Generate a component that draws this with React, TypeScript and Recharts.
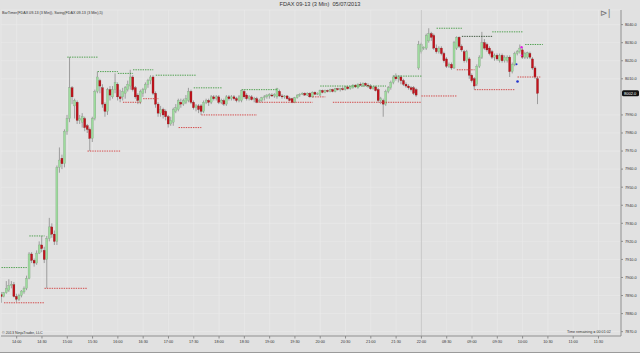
import React from 'react';
import {
  ComposedChart,
  Bar,
  XAxis,
  YAxis,
  CartesianGrid,
  ReferenceLine,
  ReferenceArea,
  ReferenceDot,
} from 'recharts';

// first bar sits at bar index -6 (14:00 = index 0, one bar = 3 min)
const FIRST_INDEX = -6;

// [open, high, low, close]
const ohlc: [number, number, number, number][] = [
  [7890.5, 7892, 7886, 7889.5], [7889.5, 7892, 7889, 7891.5], [7891.5, 7898, 7891, 7894], [7893, 7899, 7892, 7895.5],
  [7895.5, 7898, 7894, 7896], [7896, 7897.5, 7889, 7889.5], [7889.5, 7891, 7886.5, 7888], [7888, 7891, 7887, 7890],
  [7890, 7893, 7889, 7892.5], [7892, 7895, 7891, 7894], [7894, 7901, 7893, 7899.5], [7899.5, 7914, 7899, 7913],
  [7913, 7914, 7908, 7909.5], [7909.5, 7910.5, 7906, 7908], [7908, 7915, 7907, 7913.5], [7913.5, 7920, 7913, 7918],
  [7918, 7923, 7914, 7916], [7915, 7917, 7908, 7910], [7910, 7923, 7894, 7921.5], [7921.5, 7933, 7920, 7928],
  [7928, 7930, 7922, 7924], [7924, 7926, 7918, 7920],
  // rally
  [7920, 7962, 7918, 7961], [7961, 7972, 7958, 7965], [7966, 7968, 7960, 7963], [7963, 7982, 7961, 7981],
  [7981, 7990, 7979, 7988], [7988, 8022, 7986, 8005], [8005, 8006, 7996, 8000], [7995, 7999, 7988, 7998],
  [7997, 7998, 7985, 7987], [7987, 7990, 7985, 7988], [7986, 7991, 7983, 7989], [7988, 7989, 7981, 7983],
  [7984, 7985, 7980, 7982], [7982, 7983, 7970, 7977], [7977, 7989, 7975, 7988], [7988, 8004, 7987, 8003],
  [8003, 8014, 8002, 8011], [8009, 8010, 8002, 8006], [8005, 8007, 7994, 7996], [7996, 7997, 7989, 7992],
  [7992, 8005, 7990, 8004], [8004, 8006, 7998, 8001], [8000, 8006, 7999, 8004], [8004, 8013, 8002, 8008],
  [8007, 8008, 7998, 8000], [8000, 8004, 7997, 7999], [8000, 8005, 7998, 8003], [8002, 8006, 7999, 8005],
  [8004, 8009, 8003, 8007], [8006, 8015, 8004, 8011], [8011, 8012, 8003, 8004], [8005, 8006, 7999, 8000],
  [8001, 8002, 7996, 7998], [7997, 8004, 7996, 8003], [8002, 8005, 8000, 8004], [8004, 8008, 8002, 8007],
  [8007, 8010, 8005, 8009], [8009, 8012, 8007, 8011], [8011, 8012, 8001, 8002], [8002, 8003, 7994, 7996],
  [7996, 7997, 7989, 7991], [7991, 7995, 7989, 7993], [7993, 7994, 7988, 7990], [7992, 7993, 7987, 7989],
  [7989, 7990, 7983, 7985], [7985, 7989, 7984, 7987], [7986, 7994, 7984, 7993], [7992, 7996, 7991, 7994],
  [7993, 7999, 7992, 7998], [7997, 7999, 7994, 7996], [7996, 7999, 7995, 7998], [7997, 8001, 7996, 7999],
  [7998, 8005, 7997, 8003], [8003, 8004, 7996, 7997], [7997, 7998, 7993, 7994],
  // evening
  [7994, 7996, 7992, 7995], [7995, 7996, 7991, 7993], [7995, 7996, 7990, 7992], [7992, 7998, 7991, 7997],
  [7997, 7999, 7996, 7998], [7998, 7999, 7995, 7997], [7997, 8001, 7996, 8000], [8000, 8001, 7998, 7999],
  [7999, 8001, 7998, 8000], [8000, 8001, 7996, 7997], [7997, 7999, 7996, 7998], [7998, 7999, 7995, 7996],
  [7996, 8001, 7995, 8000], [8000, 8001, 7998, 7999], [7999, 8001, 7998, 8000], [8000, 8001, 7998, 7999],
  [7999, 8000, 7997, 7998], [7998, 8001, 7997, 8000], [7998, 8004, 7997, 8003.5], [8003, 8004, 7999, 8000],
  [8001, 8002, 7998, 7999], [7999, 8001, 7998, 8000], [8000, 8001, 7998, 7998.5], [7998.5, 8000, 7997, 7999],
  [7999, 8000, 7996.5, 7997], [7997.5, 7999, 7997, 7998], [7998, 8000, 7997, 7999.5], [7999.5, 8001, 7998, 8000],
  [8000, 8001.5, 7999, 8001], [8000.5, 8002, 7999, 8001.5], [8001, 8002, 8000, 8000.5], [8000.5, 8002, 7999.5, 8001.5],
  [8000, 8005, 7999, 8004.5], [8003, 8004, 8000, 8000.5], [8000.5, 8001.5, 7999, 8000], [8000, 8001, 7999, 8000.5],
  [8000.5, 8001, 7998.5, 7999], [7999, 8000, 7997.5, 7998], [7999, 7999.5, 7996.5, 7997], [7997, 8000, 7996.5, 7999.5],
  [7999.5, 8001.5, 7999, 8001], [8001, 8002, 8000, 8001.5], [8001.5, 8002.5, 8001, 8002], [8002, 8002.5, 8000.5, 8001],
  [8001, 8002.5, 8000.5, 8002], [8002, 8002.5, 7999.5, 8000], [8000, 8003, 7999.5, 8002.5], [8002.5, 8003, 8001, 8001.5],
  [8001.5, 8002.5, 8001, 8002], [8001, 8004, 8000.5, 8003.5], [8003.5, 8004, 8002, 8002.5], [8002.5, 8004, 8002, 8003.5],
  [8003.5, 8004, 8002.5, 8003], [8003, 8004.5, 8002.5, 8004], [8004, 8004.5, 8002.5, 8003], [8003, 8005, 8002.5, 8004.5],
  [8004.5, 8005, 8003.5, 8004], [8004, 8005, 8003, 8004.5], [8004.5, 8005.5, 8003.5, 8004], [8004, 8006, 8003.5, 8005.5],
  [8005.5, 8006, 8004, 8004.5], [8004.5, 8006, 8004, 8005.5], [8005, 8007, 8004.5, 8006.5], [8006.5, 8007, 8005, 8005.5],
  [8005, 8007.5, 8004.5, 8007], [8007, 8008, 8006, 8006.5], [8006.5, 8008, 8005.5, 8007.5], [8007.5, 8008, 8006, 8006.5],
  [8006.5, 8007.5, 8005, 8006], [8006, 8007, 8004, 8004.5], [8004.5, 8006, 8004, 8005.5], [8005.5, 8006, 8003, 8003.5],
  [8004, 8005, 7997, 7998], [7998, 8000, 7996, 7999], [7998, 7999, 7989, 7996], [7996, 8004, 7995, 8003],
  [8003, 8006, 8002, 8005], [8005, 8009, 8004, 8008], [8008, 8012, 8007, 8011], [8011, 8013, 8009, 8010],
  [8010, 8012, 8008, 8011], [8011, 8012, 8007, 8009], [8009, 8010, 8006, 8007], [8007, 8008, 8005, 8006],
  [8006, 8007, 8004, 8005], [8005, 8006, 8003, 8004], [8005, 8006, 8001, 8002], [8004, 8005, 8000, 8001],
  // next morning
  [8016, 8031, 8015, 8029], [8025, 8030, 8024, 8029], [8027, 8028, 8026, 8027.5], [8027, 8035, 8026, 8034],
  [8031, 8038, 8030, 8035], [8035, 8036, 8031, 8033], [8034, 8035, 8026, 8027], [8027, 8029, 8024, 8025],
  [8025, 8028, 8024, 8027], [8027, 8028, 8023, 8024], [8024, 8025, 8019, 8020], [8021, 8022, 8016, 8017],
  [8017, 8019, 8016, 8018], [8018, 8019, 8015, 8016], [8016, 8031, 8015.5, 8030], [8027, 8033.5, 8026, 8033],
  [8033, 8033.5, 8027, 8028], [8028, 8029, 8025, 8026], [8025, 8026, 8019, 8020], [8020, 8026, 8019, 8025],
  [8021, 8022, 8010, 8012], [8012, 8013, 8008, 8009], [8010, 8011, 8004, 8006], [8007, 8018, 8006, 8017],
  [8017, 8023, 8016, 8022], [8022, 8036, 8021, 8030], [8030, 8032, 8026, 8027], [8029, 8030, 8025, 8026],
  [8027, 8028, 8023, 8024], [8025, 8026, 8021, 8022], [8022, 8024, 8020, 8023], [8023, 8024, 8020, 8021],
  [8020, 8024, 8019, 8023], [8023, 8024, 8019, 8020], [8020, 8023, 8019, 8022], [8020, 8023, 8019, 8022],
  [8022, 8023, 8011, 8014], [8014, 8019, 8013, 8018], [8018, 8025, 8017, 8024], [8024, 8026, 8023, 8025],
  [8025, 8029, 8024, 8027], [8026, 8027, 8021, 8022], [8022, 8025, 8021, 8024], [8022, 8025, 8021, 8024.5],
  [8024, 8025, 8021, 8022], [8021, 8022, 8015, 8016], [8016, 8017, 8010, 8011], [8010, 8011, 7996, 8002],
];

// swing lines: [price, fromIndex, toIndex]
const swingHighs: [number, number, number][] = [
  [7905.5, -6, 4], [7923, 5, 11], [8022, 20, 32], [8014, 32, 40], [8013, 40, 46], [8015, 46, 54],
  [8012, 55, 71], [8005, 70, 81], [8004, 89, 103], [8006, 120, 146], [8011.5, 149, 160],
  [8038, 166, 176], [8033.5, 176, 188], [8036, 188, 200], [8029, 201, 208],
];
const swingLows: [number, number, number][] = [
  [7886, -5, 11], [7894, 11, 28], [7970, 28, 41], [7997, 42, 49], [7999, 50, 56], [7983, 64, 73],
  [7990, 73, 95], [7997, 95, 117], [8000, 117, 122], [7997, 125, 160], [8000.5, 160, 174],
  [8015, 174, 181], [8004, 181, 197], [8011, 198, 207],
];

const timeLabels = [
  '14:00', '14:30', '15:00', '15:30', '16:00', '16:30', '17:00', '17:30', '18:00', '18:30',
  '19:00', '19:30', '20:00', '20:30', '21:00', '21:30', '22:00', '08:30', '09:00', '09:30',
  '10:00', '10:30', '11:00', '11:30',
];
const priceTicks = [
  7870, 7880, 7890, 7900, 7910, 7920, 7930, 7940, 7950, 7960, 7970, 7980, 7990, 8010, 8020, 8030, 8040,
];

const data = ohlc.map(([open, high, low, close], i) => ({
  idx: FIRST_INDEX + i,
  open,
  high,
  low,
  close,
}));
const lastClose = ohlc[ohlc.length - 1][3];

const FONT = '"Liberation Sans", Arial, sans-serif';

const Candle = (props: any) => {
  const { x, y, width, height, payload } = props;
  if (!payload) return null;
  const { open, high, low, close } = payload;
  const top = Math.min(y, y + height);
  const h = Math.abs(height);
  const ppu = high > low ? h / (high - low) : 0;
  const yOf = (v: number) => top + (high - v) * ppu;
  const cx = x + width / 2;
  const up = close >= open;
  const bTop = yOf(Math.max(open, close));
  const bBot = yOf(Math.min(open, close));
  return (
    <g>
      <line x1={cx} x2={cx} y1={top} y2={top + h} stroke="#808080" strokeWidth={0.7} />
      <rect
        x={cx - 1}
        y={bTop}
        width={2}
        height={Math.max(bBot - bTop, 0.7)}
        fill={up ? '#9ddc9d' : '#c4121c'}
        stroke={up ? '#7c9c7c' : '#7a1010'}
        strokeWidth={0.3}
      />
    </g>
  );
};

const PriceBox = (props: any) => {
  const { cx, cy } = props;
  return (
    <g>
      <rect x={cx + 1} y={cy - 3} width={17} height={6} rx={1.5} fill="#111" />
      <text x={cx + 3} y={cy + 1.6} fontSize={4} fill="#fff" fontFamily={FONT}>
        {lastClose.toFixed(1)}
      </text>
    </g>
  );
};

const App = () => {
  return (
    <div
      style={{
        position: 'absolute',
        left: 0,
        top: 0,
        width: 640,
        height: 353,
        background: '#e1e1e1',
        fontFamily: FONT,
      }}
    >
      <div style={{ position: 'absolute', top: 0, left: 0, width: 640, textAlign: 'center', fontSize: 5.6, color: '#333', lineHeight: '9px' }}>
        FDAX 09-13 (3 Min)&nbsp;&nbsp;05/07/2013
      </div>
      <ComposedChart
        width={640}
        height={352}
        data={data}
        margin={{ top: 10, right: 0, left: 1, bottom: 0 }}
      >
        <CartesianGrid stroke="#ebebeb" strokeWidth={0.6} />
        <ReferenceArea fill="none" stroke="#8c8c8c" strokeWidth={0.8} ifOverflow="visible" />
        <XAxis
          dataKey="idx"
          type="number"
          domain={[-6.2, 238.9]}
          ticks={timeLabels.map((_, i) => i * 10)}
          tickFormatter={(v: number) => timeLabels[v / 10]}
          interval={0}
          height={16}
          tickSize={2.5}
          tick={{ fontSize: 3.8, fill: '#333', fontFamily: FONT }}
          axisLine={{ stroke: '#8c8c8c' }}
          tickLine={{ stroke: '#8c8c8c' }}
          allowDataOverflow
        />
        <YAxis
          orientation="right"
          type="number"
          domain={[7867.6, 8048.1]}
          ticks={priceTicks}
          tickFormatter={(v: number) => v.toFixed(1)}
          interval={0}
          width={19}
          tickSize={2}
          tick={{ fontSize: 3.8, fill: '#333', fontFamily: FONT }}
          axisLine={{ stroke: '#8c8c8c' }}
          tickLine={{ stroke: '#8c8c8c' }}
          allowDataOverflow
        />
        <ReferenceLine x={160} stroke="#bdbdbd" strokeWidth={0.7} />
        {swingHighs.map(([p, a, b], i) => (
          <ReferenceLine
            key={'h' + i}
            segment={[{ x: a, y: p }, { x: b, y: p }]}
            stroke={i === 12 ? '#2f4a2f' : '#3f9a3f'}
            strokeWidth={0.9}
            strokeDasharray="1.4 1"
          />
        ))}
        {swingLows.map(([p, a, b], i) => (
          <ReferenceLine
            key={'l' + i}
            segment={[{ x: a, y: p }, { x: b, y: p }]}
            stroke="#d03a3a"
            strokeWidth={0.9}
            strokeDasharray="1.4 1"
          />
        ))}
        <Bar
          dataKey={(d: any) => [d.low, d.high]}
          barSize={2}
          shape={<Candle />}
          isAnimationActive={false}
        />
        <ReferenceDot x={198} y={8008.5} r={1.3} fill="#2233cc" stroke="none" />
        <ReferenceDot x={197.6} y={8018} r={1} fill="#2233cc" stroke="none" />
        <ReferenceDot x={199.6} y={8027.5} r={1.2} fill="#e020e0" stroke="none" />
        <ReferenceDot x={199.6} y={8023} r={0.9} fill="#e020e0" stroke="none" />
        <ReferenceDot x={238.9} y={lastClose} shape={<PriceBox />} ifOverflow="visible" />
      </ComposedChart>
      <div style={{ position: 'absolute', top: 11, left: 2, fontSize: 3.7, color: '#333', whiteSpace: 'nowrap' }}>
        BarTimer(FDAX 09-13 (3 Min)), Swing(FDAX 09-13 (3 Min),5)
      </div>
      <div style={{ position: 'absolute', top: 331, left: 2, fontSize: 3.7, color: '#333', whiteSpace: 'nowrap' }}>
        © 2013 NinjaTrader, LLC
      </div>
      <div style={{ position: 'absolute', top: 330, left: 567, fontSize: 3.7, color: '#333', whiteSpace: 'nowrap' }}>
        Time remaining = 00:01:02
      </div>
      <div style={{ position: 'absolute', top: 9, left: 600, fontSize: 9, color: '#777', lineHeight: '9px' }}>
        ⊳|
      </div>
      <div style={{ position: 'absolute', top: 352, left: 0, width: 640, height: 1, background: '#9a9a9a' }} />
    </div>
  );
};

export default App;
